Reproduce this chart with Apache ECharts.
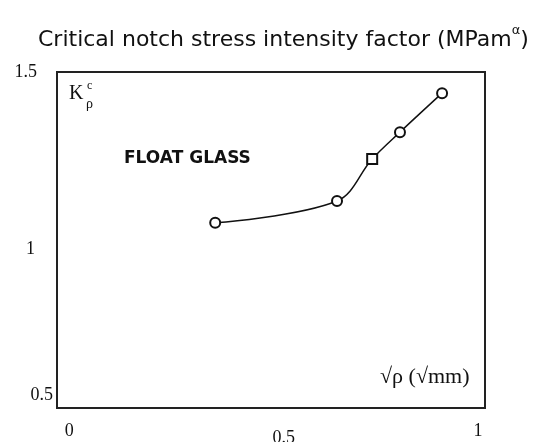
<!DOCTYPE html>
<html>
<head>
<meta charset="utf-8">
<script src="https://cdn.jsdelivr.net/npm/echarts@6/dist/echarts.min.js"></script>
<style>
  html, body { margin: 0; padding: 0; background: #fff; }
  #chart { width: 539px; height: 442px; }
</style>
</head>
<body>
<div id="chart"></div>
<script>
// sqrt(rho) in sqrt(mm), K in MPa m^alpha
var rootRho = [0.357, 0.655, 0.741, 0.809, 0.912];
var kValues = [1.051, 1.116, 1.241, 1.321, 1.437];
var markers = ['emptyCircle', 'emptyCircle', 'emptyRect', 'emptyCircle', 'emptyCircle'];
var xTicks = [0, 0.5, 1];
var yTicks = [0.5, 1, 1.5];

var serif = 'Liberation Serif';
var points = rootRho.map(function (x, i) {
  return { value: [x, kValues[i]], symbol: markers[i] };
});

var chart = echarts.init(document.getElementById('chart'));
chart.setOption({
  backgroundColor: '#fff',
  animation: false,
  title: {
    left: 33,
    top: 19,
    text: '{a|Critical notch stress intensity factor (MPam}{b|α}{a|)}',
    textStyle: {
      fontWeight: 'normal',
      rich: {
        a: { fontFamily: 'DejaVu Sans', fontSize: 22, fontWeight: 'normal', color: '#111' },
        b: { fontFamily: 'DejaVu Sans', fontSize: 13, fontWeight: 'normal', color: '#111', padding: [0, 0, 20, 0] }
      }
    }
  },
  grid: {
    left: 57, top: 72, right: 54, bottom: 34,
    outerBoundsMode: 'none',
    show: true, borderColor: '#222', borderWidth: 2, backgroundColor: '#fff'
  },
  xAxis: {
    type: 'value',
    min: -0.03,
    max: 1.017,
    axisLine: { show: false },
    axisTick: { show: false },
    splitLine: { show: false },
    axisLabel: {
      customValues: xTicks,
      margin: 14,
      formatter: function (v) {
        return v === 0.5 ? '{m|0.5}' : '{n|' + v + '}';
      },
      rich: {
        n: { fontFamily: serif, fontSize: 18, color: '#111' },
        m: { fontFamily: serif, fontSize: 18, color: '#111', padding: [7, 0, 0, 20] }
      }
    }
  },
  yAxis: {
    type: 'value',
    min: 0.5,
    max: 1.5,
    interval: 0.5,
    axisLine: { show: false },
    axisTick: { show: false },
    splitLine: { show: false },
    axisLabel: {
      customValues: yTicks,
      margin: 4,
      formatter: function (v) {
        if (v === 1.5) return '{t|1.5}';
        if (v === 1) return '{o|1}';
        return '{h|0.5}';
      },
      rich: {
        t: { fontFamily: serif, fontSize: 18, color: '#111', padding: [0, 16, 0, 0] },
        o: { fontFamily: serif, fontSize: 18, color: '#111', padding: [18, 18, 0, 0] },
        h: { fontFamily: serif, fontSize: 18, color: '#111', padding: [0, 0, 26, 0] }
      }
    }
  },
  graphic: [
    { type: 'text', left: 69, top: 84, style: { text: 'K', font: '20px "Liberation Serif"', fill: '#111' } },
    { type: 'text', left: 87, top: 80, style: { text: 'c', font: '12px "Liberation Serif"', fill: '#111' } },
    { type: 'text', left: 86, top: 97, style: { text: 'ρ', font: '14px "Liberation Serif"', fill: '#111' } },
    { type: 'text', left: 124, top: 150, style: { text: 'FLOAT GLASS', font: 'bold 17px "DejaVu Sans"', fill: '#111' } },
    { type: 'text', left: 380, top: 366, style: { text: '√ρ (√mm)', font: '22px "Liberation Serif"', fill: '#111' } }
  ],
  series: [{
    type: 'line',
    data: points,
    smooth: 0.35,
    symbolSize: 10,
    lineStyle: { color: '#111', width: 1.5 },
    itemStyle: { color: '#111', borderWidth: 1.5 }
  }]
});
</script>
</body>
</html>
